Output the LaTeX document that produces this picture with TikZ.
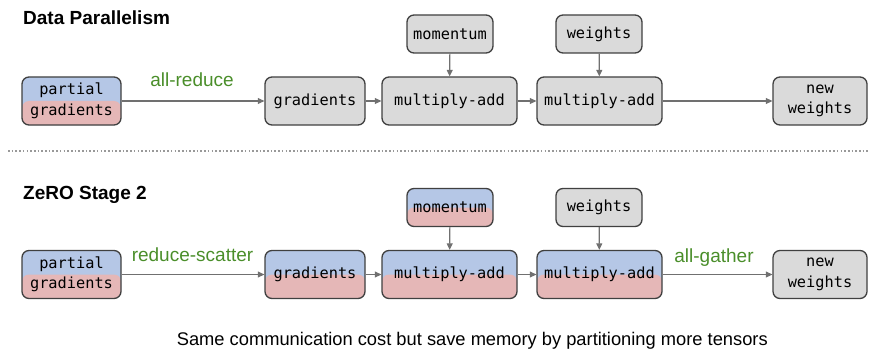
\documentclass[tikz,border=0pt]{standalone}
\usepackage{fontspec}
\setmainfont{Liberation Sans}
\setmonofont{DejaVu Sans Mono}
\usetikzlibrary{arrows.meta}
\definecolor{bxblue}{RGB}{181,199,230}
\definecolor{bxred}{RGB}{229,183,183}
\definecolor{bxgray}{RGB}{218,218,218}
\definecolor{bxedge}{RGB}{64,64,64}
\definecolor{arrgray}{RGB}{112,112,112}
\definecolor{lblgreen}{RGB}{74,142,42}
\tikzset{
  box/.style={draw=bxedge, line width=1.3pt, rounded corners=7pt, fill=bxgray,
    inner sep=0pt, align=center, font=\fontsize{15.3}{20.5}\selectfont\ttfamily},
  split/.style={fill=bxblue, path picture={
      \fill[bxred] (path picture bounding box.west) rectangle (path picture bounding box.south east);}},
  conn/.style={draw=arrgray, line width=1.2pt, -{Triangle[length=6.5pt,width=6pt]}},
  ttl/.style={font=\fontsize{19}{22}\selectfont\bfseries, anchor=base west, inner sep=0pt},
  lbl/.style={font=\fontsize{19}{22}\selectfont, text=lblgreen, anchor=base, inner sep=0pt},
}
\begin{document}
\begin{tikzpicture}[x=1pt,y=-1pt]
\useasboundingbox (0,0) rectangle (869,350);
% titles
\node[ttl] (t1) at (23,25) {Data Parallelism};
\node[ttl] (t2) at (23,199) {ZeRO Stage 2};
% separator
\draw[draw=gray!80, line width=1.3pt, dash pattern=on 1.6pt off 2.1pt] (8,151) -- (869,151);
% Data parallelism row
\node[box, split, minimum width=99pt, minimum height=48pt] (pg1) at (71.5,101) {partial\\gradients};
\node[box, minimum width=100pt, minimum height=48pt] (gr1) at (315,101) {gradients};
\node[box, minimum width=135pt, minimum height=48pt] (ma1) at (449.5,101) {multiply-add};
\node[box, minimum width=86pt, minimum height=38pt] (mo1) at (450,34) {momentum};
\node[box, minimum width=125pt, minimum height=48pt] (mb1) at (599.5,101) {multiply-add};
\node[box, minimum width=86pt, minimum height=38pt] (we1) at (599,34) {weights};
\node[box, minimum width=94pt, minimum height=48pt] (nw1) at (820,101) {new\\weights};
\draw[conn] (pg1) -- (gr1);
\draw[conn] (gr1) -- (ma1);
\draw[conn] (mo1) -- (ma1);
\draw[conn] (ma1) -- (mb1);
\draw[conn] (we1) -- (mb1);
\draw[conn] (mb1) -- (nw1);
\node[lbl] (l1) at (192,87) {all-reduce};
% ZeRO row
\node[box, split, minimum width=99pt, minimum height=48pt] (pg2) at (71.5,274.5) {partial\\gradients};
\node[box, split, minimum width=100pt, minimum height=48pt] (gr2) at (315,274.5) {gradients};
\node[box, split, minimum width=135pt, minimum height=48pt] (ma2) at (449.5,274.5) {multiply-add};
\node[box, split, minimum width=86pt, minimum height=38pt] (mo2) at (450,207.5) {momentum};
\node[box, split, minimum width=125pt, minimum height=48pt] (mb2) at (599.5,274.5) {multiply-add};
\node[box, minimum width=86pt, minimum height=38pt] (we2) at (599,207.5) {weights};
\node[box, minimum width=94pt, minimum height=48pt] (nw2) at (820,274.5) {new\\weights};
\draw[conn] (pg2) -- (gr2);
\draw[conn] (gr2) -- (ma2);
\draw[conn] (mo2) -- (ma2);
\draw[conn] (ma2) -- (mb2);
\draw[conn] (we2) -- (mb2);
\draw[conn] (mb2) -- (nw2);
\node[lbl] (l2) at (192.5,261) {reduce-scatter};
\node[lbl] (l3) at (714,262) {all-gather};
% caption
\node[font=\fontsize{18.3}{22}\selectfont, anchor=base, inner sep=0pt] (cap) at (472.3,345) {Same communication cost but save memory by partitioning more tensors};
\end{tikzpicture}
\end{document}
